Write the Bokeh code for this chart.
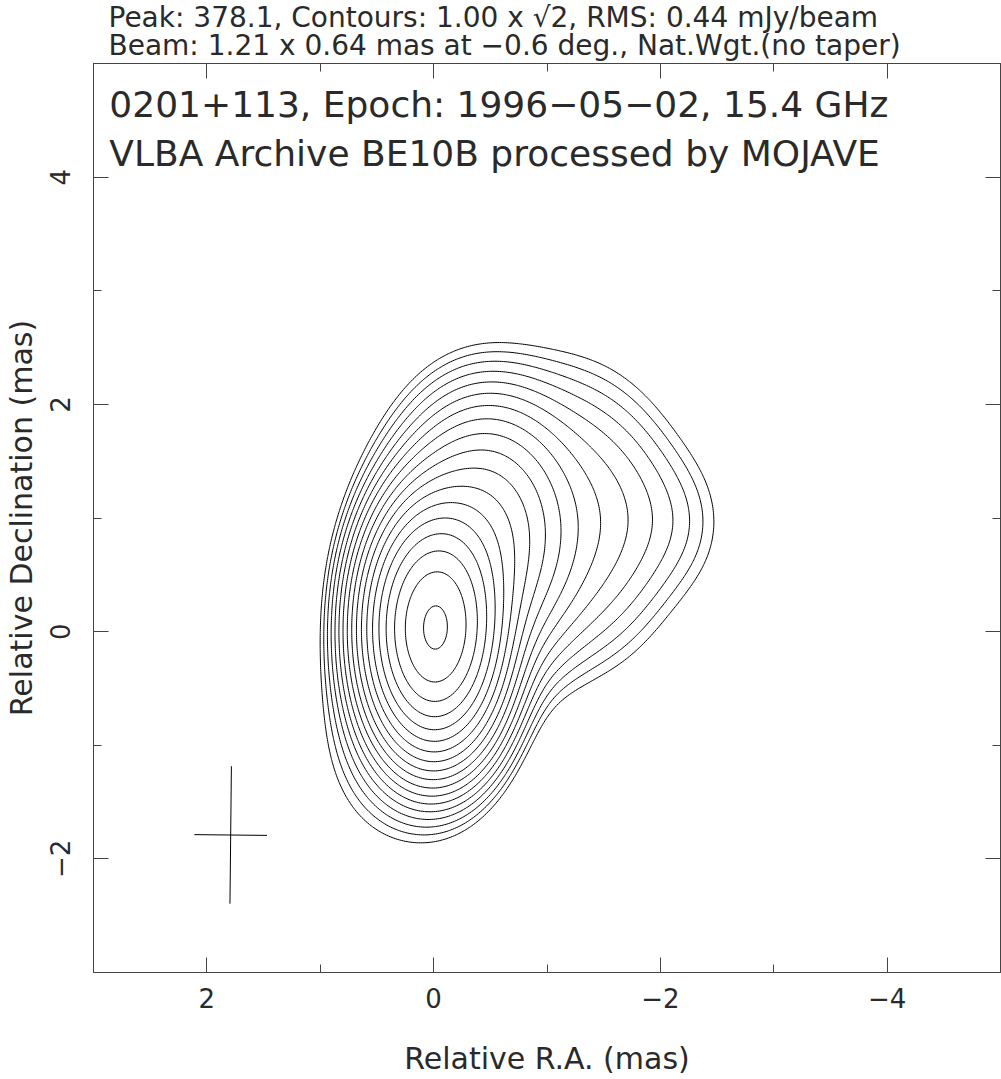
import numpy as np
from bokeh.plotting import figure
from bokeh.models import Range1d, LinearAxis, FixedTicker, Label, Title
from bokeh.embed import file_html
from bokeh.resources import INLINE

# ---- header values ----
peak = 378.1
contour_base = 1.00
contour_step = np.sqrt(2.0)
n_levels = 18
beam_major = 1.21
beam_minor = 0.64
beam_pa = -0.6

# ---- source model (image-plane Gaussian components, mJy/beam, mas) ----
comp_flux = [376.0, 45.0, 4.5, 0.8, 2.0, 2.2, 2.0]
comp_ra = [-0.01, -0.45, -1.50, -2.20, -1.30, -1.20, 0.35]
comp_dec = [0.02, 0.85, 1.00, 0.95, 0.35, 1.60, -1.00]
comp_sx = [0.29, 0.40, 0.45, 0.30, 0.40, 0.45, 0.40]
comp_sy = [0.52, 0.60, 0.55, 0.40, 0.50, 0.55, 0.55]

# ---- axes ----
x_ticks = [2, 0, -2, -4]
x_minor = [3, 1, -1, -3, -5]
y_ticks = [-2, 0, 2, 4]
y_minor = [-3, -1, 1, 3, 5]

FONT = "DejaVu Sans"
TXT = "#2a2a2a"
FRAME = "#444444"

xs = np.linspace(-5, 3, 481)
ys = np.linspace(-3, 5, 481)
X, Y = np.meshgrid(xs, ys)
Z = np.zeros_like(X)
for f, cx, cy, sx, sy in zip(comp_flux, comp_ra, comp_dec, comp_sx, comp_sy):
    Z += f * np.exp(-0.5 * (((X - cx) / sx) ** 2 + ((Y - cy) / sy) ** 2))
levels = [contour_base * contour_step ** k for k in range(n_levels)]

p = figure(width=1001, height=1079, x_range=Range1d(3, -5), y_range=Range1d(-3, 5),
           output_backend="svg", toolbar_location=None,
           min_border_left=93, min_border_right=1, min_border_top=63, min_border_bottom=107)
p.xgrid.visible = False
p.ygrid.visible = False
p.outline_line_color = FRAME
p.outline_line_width = 1
p.background_fill_color = "white"
p.border_fill_color = "white"

def style_axis(ax, show_labels, orient=None, standoff=10):
    ax.axis_line_color = FRAME
    ax.major_tick_line_color = FRAME
    ax.minor_tick_line_color = FRAME
    ax.major_tick_in = 15
    ax.major_tick_out = 0
    ax.minor_tick_in = 8
    ax.minor_tick_out = 0
    ax.major_label_text_font = FONT
    ax.major_label_text_color = TXT
    ax.axis_label_text_font = FONT
    ax.axis_label_text_font_size = "30px"
    ax.axis_label_text_font_style = "normal"
    ax.axis_label_text_color = TXT
    if show_labels:
        ax.major_label_text_font_size = "26px"
        ax.major_label_standoff = standoff
    else:
        ax.major_label_text_font_size = "1px"
        ax.major_label_standoff = 0
    if orient is not None:
        ax.major_label_orientation = orient

xtk = FixedTicker(ticks=x_ticks, minor_ticks=x_minor)
ytk = FixedTicker(ticks=y_ticks, minor_ticks=y_minor)
overrides = {t: (("\u2212" + str(abs(t))) if t < 0 else str(t)) for t in set(x_ticks + y_ticks)}
blank = {t: "" for t in set(x_ticks + y_ticks)}

p.xaxis.ticker = xtk
p.yaxis.ticker = ytk
style_axis(p.xaxis[0], True, standoff=15)
style_axis(p.yaxis[0], True, orient="vertical", standoff=24)
p.xaxis[0].major_label_overrides = overrides
p.yaxis[0].major_label_overrides = overrides
p.xaxis[0].axis_label = "Relative R.A. (mas)"
p.xaxis[0].axis_label_standoff = 30
p.yaxis[0].axis_label = "Relative Declination (mas)"
p.yaxis[0].axis_label_standoff = 8

top_ax = LinearAxis(ticker=xtk)
style_axis(top_ax, False)
top_ax.major_label_overrides = blank
p.add_layout(top_ax, "above")
right_ax = LinearAxis(ticker=ytk)
style_axis(right_ax, False)
right_ax.major_label_overrides = blank
p.add_layout(right_ax, "right")

title_line1 = "Peak: 378.1, Contours: 1.00 x \u221a2, RMS: 0.44 mJy/beam"
title_line2 = "Beam: 1.21 x 0.64 mas at \u22120.6 deg., Nat.Wgt.(no taper)"
p.add_layout(Title(text=title_line1 + "\n" + title_line2, align="left", offset=15, standoff=0,
                   vertical_align="top", text_font=FONT, text_font_size="28px",
                   text_font_style="normal", text_color=TXT, text_line_height=0.85), "above")

# contours
p.contour(xs, ys, Z, levels, line_color="black", line_width=1)

# beam cross
pa = np.deg2rad(beam_pa)
bx, by = 1.79, -1.79
mx, my = np.sin(pa) * beam_major / 2, np.cos(pa) * beam_major / 2
nx, ny = np.cos(pa) * beam_minor / 2, -np.sin(pa) * beam_minor / 2
p.segment(x0=[bx - mx, bx - nx], y0=[by - my, by - ny], x1=[bx + mx, bx + nx], y1=[by + my, by + ny],
          line_color="black", line_width=1)

# texts inside the frame
for text, yy in (("0201+113, Epoch: 1996\u221205\u221202, 15.4 GHz", 4.635),
                 ("VLBA Archive BE10B processed by MOJAVE", 4.205)):
    p.add_layout(Label(x=2.86, y=yy, text=text, text_font=FONT, text_font_size="36px",
                       text_color=TXT, text_align="left", text_baseline="alphabetic"))

open("out.html", "w").write(file_html(p, INLINE))
